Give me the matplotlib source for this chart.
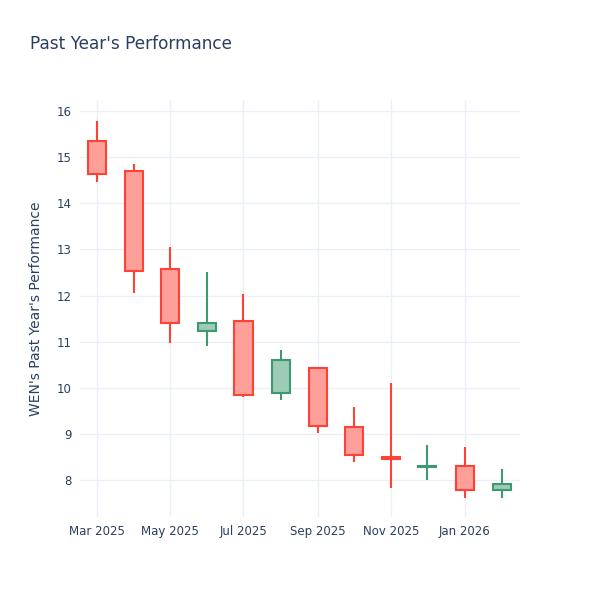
import numpy as np
import pandas as pd
import matplotlib
matplotlib.use("Agg")
import matplotlib.pyplot as plt
import matplotlib.dates as mdates

# --- 資料 (月K) ---
dates = pd.to_datetime(["2025-03-01", "2025-04-01", "2025-05-01", "2025-06-01",
                        "2025-07-01", "2025-08-01", "2025-09-01", "2025-10-01",
                        "2025-11-01", "2025-12-01", "2026-01-01", "2026-02-01"])
opens = [15.35, 14.70, 12.58, 11.23, 11.45, 9.89, 10.43, 9.15, 8.50, 8.28, 8.30, 7.78]
highs = [15.78, 14.85, 13.05, 12.51, 12.03, 10.82, 10.43, 9.58, 10.10, 8.76, 8.72, 8.24]
lows = [14.46, 12.05, 10.97, 10.91, 9.80, 9.73, 9.02, 8.39, 7.83, 8.00, 7.61, 7.61]
closes = [14.63, 12.53, 11.40, 11.40, 9.84, 10.60, 9.17, 8.54, 8.46, 8.30, 7.78, 7.91]

INC = "#3D9970"
DEC = "#FF4136"
TXT = "#2a3f5f"
GRID = "#EBF0F8"

fig = plt.figure(figsize=(6, 6), dpi=100)
ax = fig.add_axes([80 / 600, 1 - 517 / 600, 440 / 600, 417 / 600])

x = mdates.date2num(dates)
width = 15  # days
for xi, o, h, l, c in zip(x, opens, highs, lows, closes):
    col = INC if c >= o else DEC
    ax.vlines(xi, l, h, color=col, linewidth=1.5, zorder=2)
    # 先畫白底蓋住影線，再畫半透明實體
    ax.bar(xi, c - o, bottom=o, width=width, facecolor="white", edgecolor="none", zorder=3)
    ax.bar(xi, c - o, bottom=o, width=width, facecolor=col + "80",
           edgecolor=col, linewidth=1.5, zorder=4)

ax.set_xlim(mdates.date2num(pd.Timestamp("2025-02-15")), mdates.date2num(pd.Timestamp("2026-02-16")))
ax.set_ylim(7.2, 16.24)
ax.set_yticks(range(8, 17))

ticks = pd.to_datetime(["2025-03-01", "2025-05-01", "2025-07-01", "2025-09-01", "2025-11-01", "2026-01-01"])
ax.set_xticks(mdates.date2num(ticks))
ax.set_xticklabels([t.strftime("%b %Y") for t in ticks])

for s in ax.spines.values():
    s.set_visible(False)
ax.grid(True, color=GRID, linewidth=1)
ax.set_axisbelow(True)
ax.tick_params(length=0, labelsize=8.5, labelcolor=TXT, pad=6)

ax.set_ylabel("WEN's Past Year's Performance", fontsize=10, color=TXT, labelpad=10)
fig.text(30 / 600, 1 - 44 / 600, "Past Year's Performance", fontsize=12.2, color=TXT, va="center")

fig.savefig("out.png", dpi=100, facecolor="white")
